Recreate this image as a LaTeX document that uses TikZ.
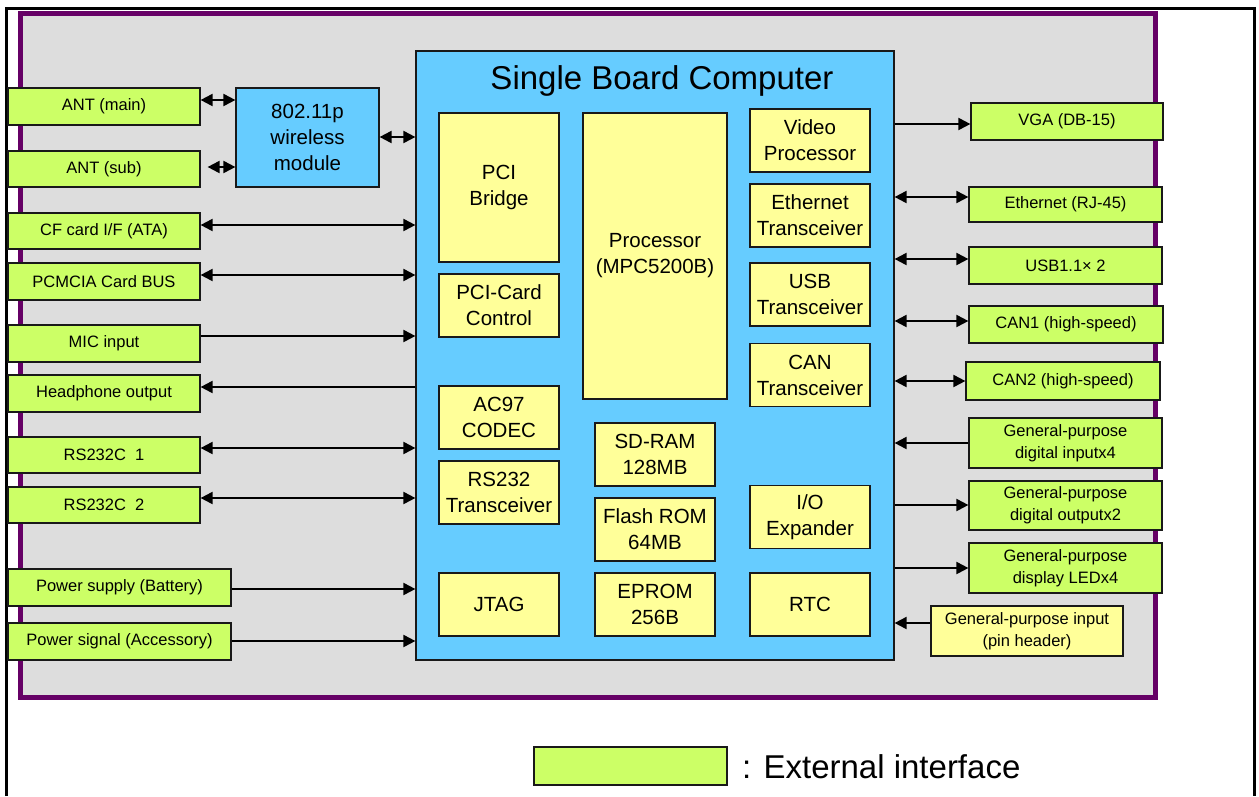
\documentclass[tikz,border=0pt]{standalone}
\usepackage{fontspec}
\setmainfont{Liberation Sans}
\usepackage{tikz}
\usetikzlibrary{arrows.meta,positioning}
\definecolor{extgreen}{HTML}{CCFF66}
\definecolor{partyellow}{HTML}{FFFF99}
\definecolor{boardblue}{HTML}{66CCFF}
\definecolor{casegray}{HTML}{DDDDDD}
\definecolor{casepurple}{HTML}{660066}

\begin{document}
\begin{tikzpicture}[x=1pt,y=-1pt]
\tikzstyle{ext}=[rectangle,draw=black!90,fill=extgreen,line width=1.2pt,minimum width=192pt,minimum height=37pt,inner sep=0pt,align=center,font=\fontsize{16.5}{22}\selectfont]
\tikzstyle{part}=[rectangle,draw=black!90,fill=partyellow,line width=1.2pt,minimum width=120pt,minimum height=63pt,inner sep=0pt,align=center,font=\fontsize{20.5}{26}\selectfont]
\tikzstyle{board}=[rectangle,draw=black!90,fill=boardblue,line width=1.2pt,inner sep=0pt]
\tikzstyle{every path}=[>={Triangle[length=12pt,width=12pt]}]
\tikzstyle{sig}=[line width=2pt]

\useasboundingbox (0,0) rectangle (1259,796);
\draw[line width=3pt] (6,796) -- (6,8) -- (1254,8) -- (1254,796);
\draw[line width=5pt,draw=casepurple,fill=casegray] (20,13) rectangle (1155,697);

\node[board,minimum width=478pt,minimum height=609pt] (sbc) at (655,355.5) {};
\node[font=\fontsize{33}{40}\selectfont] (title) at (662,81) {Single Board Computer};
\node[board,minimum width=143pt,minimum height=99pt,align=center,font=\fontsize{20.5}{26}\selectfont] (wlan) at (307.5,137.5) {802.11p\\wireless\\module};

\node[part,minimum height=149pt] (pcib) at (499,187.5) {PCI\\Bridge};
\node[part] (pcic) at (499,305.5) {PCI-Card\\Control};
\node[part,minimum width=144pt,minimum height=286pt] (proc) at (655,256) {Processor\\(MPC5200B)};
\node[part] (video) at (810,140.5) {Video\\Processor};
\node[part] (ethtr) at (810,215.5) {Ethernet\\Transceiver};
\node[part] (usbtr) at (810,294.5) {USB\\Transceiver};
\node[part] (cantr) at (810,375) {CAN\\Transceiver};
\node[part] (ac97) at (499,417.5) {AC97\\CODEC};
\node[part] (rstr) at (499,492.5) {RS232\\Transceiver};
\node[part] (jtag) at (499,604.5) {JTAG};
\node[part] (sdram) at (655,454.5) {SD-RAM\\128MB};
\node[part] (flash) at (655,529.5) {Flash ROM\\64MB};
\node[part] (eprom) at (655,604.5) {EPROM\\256B};
\node[part] (ioexp) at (810,517) {I/O\\Expander};
\node[part] (rtc) at (810,604.5) {RTC};

\node[ext] (antmain) at (104,106.5) {ANT (main)};
\node[ext,minimum height=36pt] (antsub) at (104,169) {ANT (sub)};
\node[ext,minimum height=36pt] (cfcard) at (104,231) {CF card I/F (ATA)};
\node[ext] (pcmcia) at (104,281.5) {PCMCIA Card BUS};
\node[ext] (mic) at (104,343.5) {MIC input};
\node[ext] (hp) at (104,393.5) {Headphone output};
\node[ext,minimum height=36pt] (rsa) at (104,455) {RS232C\ \ 1};
\node[ext,minimum height=36pt] (rsb) at (104,505) {RS232C\ \ 2};
\node[ext,minimum width=223pt] (power) at (119.5,587.5) {Power supply (Battery)};
\node[ext,minimum width=223pt] (acc) at (119.5,641.5) {Power signal (Accessory)};

\node[ext] (vga) at (1067,121.5) {VGA (DB-15)};
\node[ext,minimum width=193pt,minimum height=35pt] (eth) at (1065.5,204.5) {Ethernet (RJ-45)};
\node[ext,minimum width=193pt] (usb) at (1065.5,265.5) {USB1.1× 2};
\node[ext,minimum width=194pt] (can1) at (1066,324.5) {CAN1 (high-speed)};
\node[ext,minimum width=194pt,minimum height=38pt] (can2) at (1063,381) {CAN2 (high-speed)};
\node[ext,minimum width=193pt,minimum height=50pt] (gpin) at (1065.5,443) {General-purpose\\digital inputx4};
\node[ext,minimum width=193pt,minimum height=49pt] (gpout) at (1065.5,505.5) {General-purpose\\digital outputx2};
\node[ext,minimum width=193pt,minimum height=50pt] (gpled) at (1065.5,568) {General-purpose\\display LEDx4};
\node[ext,fill=partyellow,minimum height=50pt] (pinhdr) at (1027,631) {General-purpose input\\(pin header)};

\node[ext,minimum width=193pt,minimum height=38pt] (legbox) at (630.5,766) {};
\node[anchor=west,inner sep=0pt,font=\fontsize{33}{40}\selectfont] (legtext) at (742,767) {: External interface};

\draw[sig,<->] ([yshift=6.5pt]antmain.east) -- ([yshift=6.5pt]antmain.east -| wlan.west);
\draw[sig,<->,shorten <=7pt] ([yshift=2pt]antsub.east) -- ([yshift=2pt]antsub.east -| wlan.west);
\draw[sig,<->] ([yshift=0.5pt]wlan.east) -- ([yshift=0.5pt]wlan.east -| sbc.west);
\foreach \n/\d/\s in {cfcard/<->/6,pcmcia/<->/6.5,mic/->/7.5,hp/<-/6.5,rsa/<->/7,rsb/<->/7,power/->/-1.5,acc/->/0.5}
  \draw[sig,\d] ([yshift=\s pt]\n.east) -- ([yshift=\s pt]\n.east -| sbc.west);
\foreach \n/\d/\s in {vga/->/-2.5,eth/<->/7.5,usb/<->/6.5,can1/<->/3.5,can2/<->/0,gpin/<-/0,gpout/->/0.5,gpled/->/0,pinhdr/<-/8}
  \draw[sig,\d] ([yshift=\s pt]\n.west -| sbc.east) -- ([yshift=\s pt]\n.west);
\end{tikzpicture}
\end{document}
